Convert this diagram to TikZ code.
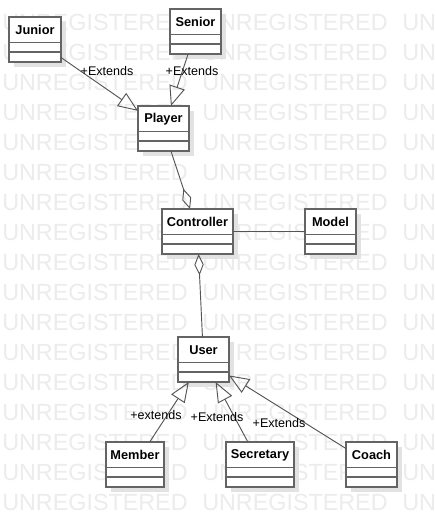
\documentclass[tikz,border=0pt]{standalone}
\usepackage{fontspec}
\setmainfont{Liberation Sans}
\usetikzlibrary{arrows.meta}
\definecolor{wm}{RGB}{236,236,236}
\definecolor{boxc}{RGB}{100,100,100}
\definecolor{linec}{RGB}{85,85,85}
\definecolor{shadc}{RGB}{226,226,226}
\tikzset{
  classbox/.style={draw=boxc, line width=1.2pt, fill=white, inner sep=0pt, outer sep=0pt},
  compline/.style={draw=boxc, line width=1.2pt},
  classname/.style={font=\bfseries\fontsize{9.6}{11}\selectfont, inner sep=0pt},
  extlabel/.style={font=\fontsize{9.4}{11}\selectfont, inner sep=0pt},
  conn/.style={draw=linec, line width=0.7pt},
  ext/.style={conn, -{Triangle[open, length=15pt, width=12pt]}},
  agg/.style={conn, -{Diamond[open, length=16pt, width=7pt]}},
  wmtext/.style={font=\fontsize{17.5}{20}\selectfont, text=wm, anchor=base west, inner sep=0pt},
}
\newcommand{\umlclass}[6]{%
  \fill[shadc] (#2+5,#3+5) rectangle (#4+5,#5+5);
  \node[classbox, minimum width={(#4-#2)*0.75pt}, minimum height={(#5-#3)*0.75pt}] (#1) at ({(#2+#4)/2},{(#3+#5)/2}) {};
  \draw[compline] (#2,#3+25.5) -- (#4,#3+25.5);
  \draw[compline] (#2,#3+35) -- (#4,#3+35);
  \node[classname] (#1-name) at ({(#2+#4)/2},#3+13) {#6};
}
\begin{document}
\begin{tikzpicture}[x=0.75pt, y=-0.75pt]
  \path[use as bounding box, fill=white] (0,0) rectangle (436,526);
  \begin{scope}
    \clip (0,0) rectangle (436,526);
    \foreach \j in {1,...,17} {
      \foreach \k in {0,1,2} {
        \node[wmtext] (wm-\j-\k) at (2+200*\k, 30*\j) {UNREGISTERED};
      }
    }
  \end{scope}

  \umlclass{junior}{9}{17}{61}{62}{Junior}
  \umlclass{senior}{170}{9}{221}{54}{Senior}
  \umlclass{player}{138}{106}{189}{151}{Player}
  \umlclass{controller}{162}{209}{233}{254}{Controller}
  \umlclass{model}{305}{209}{356}{254}{Model}
  \umlclass{user}{178}{337}{229}{382}{User}
  \umlclass{member}{106}{442}{164}{487}{Member}
  \umlclass{secretary}{226}{442}{294}{487}{Secretary}
  \umlclass{coach}{346}{442}{397}{487}{Coach}

  \draw[ext] (junior) -- (player);
  \draw[ext] (senior) -- (player);
  \draw[agg] (player) -- (controller);
  \draw[agg] (user) -- (controller);
  \draw[conn] (controller) -- (model);
  \draw[ext] (member) -- (user);
  \draw[ext] (secretary) -- (user);
  \draw[ext] (coach) -- (user);

  \node[extlabel] (l1) at (107,71) {+Extends};
  \node[extlabel] (l2) at (192,71) {+Extends};
  \node[extlabel] (l3) at (156,415) {+extends};
  \node[extlabel] (l4) at (217,417) {+Extends};
  \node[extlabel] (l5) at (279,423) {+Extends};
\end{tikzpicture}
\end{document}
